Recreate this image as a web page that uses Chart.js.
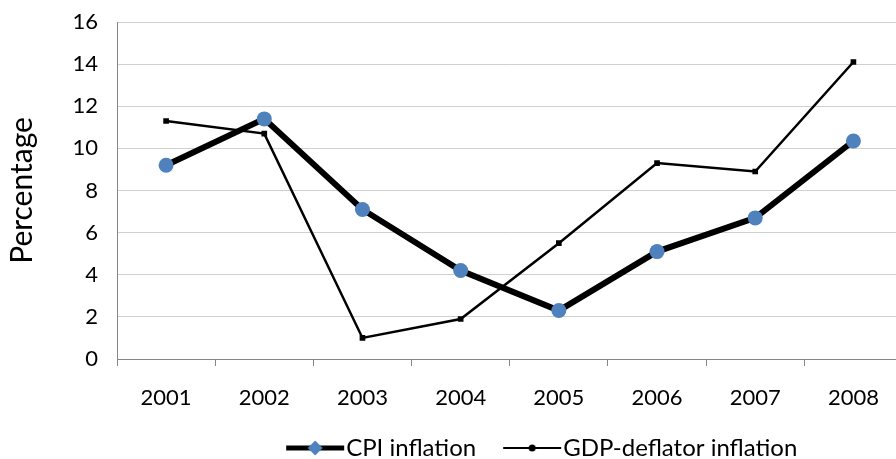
<!DOCTYPE html>
<html>
<head>
<meta charset="utf-8">
<script src="https://cdn.jsdelivr.net/npm/chart.js@4.4.1/dist/chart.umd.min.js"></script>
<style>
    html, body { margin: 0; padding: 0; background: #fff; overflow: hidden; }
    #marco { width: 896px; height: 459px; overflow: hidden; }
    #lienzo { width: 910px; height: 484px; position: relative; }
</style>
</head>
<body>
<div id="marco"><div id="lienzo"><canvas id="grafica"></canvas></div></div>
<script>
const anios = ["2001", "2002", "2003", "2004", "2005", "2006", "2007", "2008"];
const inflacionIPC = [9.2, 11.4, 7.1, 4.2, 2.3, 5.1, 6.7, 10.35];
const inflacionDeflactor = [11.3, 10.7, 1.0, 1.9, 5.5, 9.3, 8.9, 14.1];
const nombresSeries = ["CPI inflation", "GDP-deflator inflation"];
const ejeY = { min: 0, max: 16, paso: 2, titulo: "Percentage" };

const fuente = "Lato, 'Open Sans', sans-serif";
const azul = "#4f81bd";

// icono de leyenda: linea con marcador en medio (como en Excel)
function crearIcono(grosor, forma, tam, relleno){
    const c = document.createElement("canvas");
    c.width = 60;
    c.height = 20;
    const ctx = c.getContext("2d");
    ctx.strokeStyle = "#000";
    ctx.lineWidth = grosor;
    ctx.beginPath();
    ctx.moveTo(1, 10);
    ctx.lineTo(59, 10);
    ctx.stroke();
    ctx.fillStyle = relleno;
    ctx.beginPath();
    if(forma === "rombo"){
        ctx.moveTo(30, 10 - tam);
        ctx.lineTo(30 + tam, 10);
        ctx.lineTo(30, 10 + tam);
        ctx.lineTo(30 - tam, 10);
        ctx.closePath();
    }else{
        ctx.arc(30, 10, tam, 0, Math.PI * 2);
    }
    ctx.fill();
    return c;
}

const iconos = [crearIcono(5, "rombo", 7.5, azul), crearIcono(2, "punto", 3.5, "#000")];

// coloca la leyenda donde esta en la original
const moverLeyenda = {
    id: "moverLeyenda",
    afterLayout(chart){
        const l = chart.legend;
        l.left += 37;
        l.right += 37;
        l.top -= 14;
        l.bottom -= 14;
    }
};

const ctx = document.getElementById("grafica").getContext("2d");

new Chart(ctx, {
    type: "line",
    data: {
        labels: anios,
        datasets: [
            {
                label: nombresSeries[0],
                data: inflacionIPC,
                borderColor: "#000",
                borderWidth: 6,
                pointStyle: "circle",
                pointRadius: 7.5,
                pointBackgroundColor: azul,
                pointBorderWidth: 0,
                tension: 0
            },
            {
                label: nombresSeries[1],
                data: inflacionDeflactor,
                borderColor: "#000",
                borderWidth: 2.5,
                pointStyle: "rect",
                pointRadius: 4,
                pointBackgroundColor: "#000",
                pointBorderWidth: 0,
                tension: 0
            }
        ]
    },
    plugins: [moverLeyenda],
    options: {
        responsive: true,
        maintainAspectRatio: false,
        animation: false,
        layout: { padding: { top: 22, right: 3, bottom: 0, left: 0 } },
        plugins: {
            tooltip: { enabled: false },
            legend: {
                position: "bottom",
                fullSize: false,
                labels: {
                    usePointStyle: true,
                    pointStyleWidth: 38,
                    padding: 37,
                    color: "#000",
                    font: { family: fuente, size: 24 },
                    generateLabels: (chart) => chart.data.datasets.map((ds, i) => ({
                        text: ds.label,
                        pointStyle: iconos[i],
                        datasetIndex: i,
                        lineWidth: 0,
                        fontColor: "#000"
                    }))
                }
            }
        },
        scales: {
            x: {
                offset: true,
                border: { display: true, color: "#868686", width: 1 },
                grid: {
                    offset: true,
                    drawOnChartArea: false,
                    drawTicks: true,
                    tickLength: 7,
                    color: "#868686"
                },
                ticks: { color: "#000", padding: 19, font: { family: fuente, size: 22 } },
                afterFit: (escala) => { escala.height = 54; }
            },
            y: {
                min: ejeY.min,
                max: ejeY.max,
                border: { display: true, color: "#868686", width: 1 },
                grid: { color: "#d0d0d0", drawTicks: false },
                ticks: {
                    stepSize: ejeY.paso,
                    color: "#000",
                    padding: 19,
                    font: { family: fuente, size: 22 }
                },
                title: {
                    display: true,
                    text: ejeY.titulo,
                    color: "#000",
                    padding: { top: 4, bottom: 0 },
                    font: { family: fuente, size: 30 }
                },
                afterFit: (escala) => {
                    escala.width = 117;
                    escala.paddingTop = 0;
                    escala.paddingBottom = 0;
                }
            }
        }
    }
});
</script>
</body>
</html>
